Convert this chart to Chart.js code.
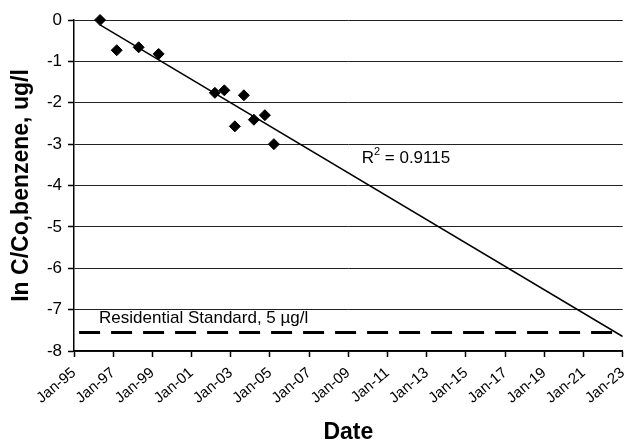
<!DOCTYPE html>
<html>
<head>
<meta charset="utf-8">
<script src="https://cdn.jsdelivr.net/npm/chart.js@4.4.1/dist/chart.umd.min.js"></script>
<style>
  html, body { margin: 0; padding: 0; background: #fff; }
  #wrap { width: 625px; height: 444px; position: relative; }
</style>
</head>
<body>
<div id="wrap"><canvas id="benzeneChart"></canvas></div>
<script>
// sample dates as decimal years, ln(C/Co) for benzene
const sampleDates = [1996.33, 1997.18, 1998.30, 1999.32, 2002.19, 2002.67, 2003.21, 2003.67, 2004.18, 2004.74, 2005.20];
const lnRatio = [0, -0.73, -0.66, -0.82, -1.76, -1.70, -2.57, -1.82, -2.41, -2.30, -3.00];

// linear trend line end points
const trendDates = [1996.33, 2023];
const trendValues = [-0.12, -7.65];

// residential standard, 5 ug/l
const standardDates = [1995.26, 2023];
const standardValues = [-7.55, -7.55];

const yTicks = [0, -1, -2, -3, -4, -5, -6, -7, -8];
const xTickYears = [1995, 1997, 1999, 2001, 2003, 2005, 2007, 2009, 2011, 2013, 2015, 2017, 2019, 2021, 2023];

function toPoints(xs, ys) {
    return xs.map((x, i) => ({ x: x, y: ys[i] }));
}

const FONT = '"Liberation Sans", Arial, Helvetica, sans-serif';

// text labels placed inside the plot
const notes = {
    id: 'notes',
    afterDatasetsDraw(chart) {
        const ctx = chart.ctx;
        const xs = chart.scales.x, ys = chart.scales.y;
        ctx.save();
        ctx.fillStyle = '#000';
        ctx.textBaseline = 'middle';
        ctx.textAlign = 'left';

        // R squared
        let px = xs.getPixelForValue(2009.68);
        let py = ys.getPixelForValue(-3.34);
        ctx.font = '17px ' + FONT;
        ctx.fillText('R', px, py);
        px += ctx.measureText('R').width;
        ctx.font = '11px ' + FONT;
        ctx.fillText('2', px, py - 6);
        px += ctx.measureText('2').width;
        ctx.font = '17px ' + FONT;
        ctx.fillText(' = 0.9115', px, py);

        // standard
        ctx.fillText('Residential Standard, 5 \u00b5g/l', xs.getPixelForValue(1996.28), ys.getPixelForValue(-7.21));
        ctx.restore();
    }
};

new Chart(document.getElementById('benzeneChart'), {
    type: 'scatter',
    data: {
        datasets: [
            {
                label: 'ln C/Co',
                data: toPoints(sampleDates, lnRatio),
                pointStyle: 'rectRot',
                pointRadius: 5.5,
                backgroundColor: '#000',
                borderColor: '#000',
                borderWidth: 1,
                showLine: false,
                clip: false,
                order: 0
            },
            {
                label: 'Trend',
                data: toPoints(trendDates, trendValues),
                showLine: true,
                borderColor: '#000',
                borderWidth: 1.5,
                pointRadius: 0,
                order: 1
            },
            {
                label: 'Residential Standard',
                data: toPoints(standardDates, standardValues),
                showLine: true,
                borderColor: '#000',
                borderWidth: 3,
                borderDash: [21, 11],
                pointRadius: 0,
                order: 2
            }
        ]
    },
    options: {
        responsive: true,
        maintainAspectRatio: false,
        animation: false,
        layout: {
            autoPadding: false,
            padding: { top: 20, right: 2.3, left: 0, bottom: 0 }
        },
        plugins: {
            legend: { display: false },
            tooltip: { enabled: false }
        },
        scales: {
            x: {
                type: 'linear',
                min: 1995,
                max: 2023,
                afterBuildTicks(scale) {
                    scale.ticks = xTickYears.map(v => ({ value: v }));
                },
                afterFit(scale) {
                    scale.height = 93;
                    scale.paddingRight = 0;
                },
                ticks: {
                    autoSkip: false,
                    minRotation: 40,
                    maxRotation: 40,
                    color: '#000',
                    padding: 7,
                    font: { family: FONT, size: 15 },
                    callback: v => 'Jan-' + String(Math.round(v) % 100).padStart(2, '0')
                },
                grid: {
                    drawOnChartArea: false,
                    tickLength: 6,
                    tickColor: '#000',
                    tickWidth: 1.5
                },
                border: { color: '#000', width: 1.5 },
                title: {
                    display: true,
                    text: 'Date',
                    color: '#000',
                    font: { family: FONT, size: 23, weight: 'bold', lineHeight: 1 },
                    padding: { top: 0, bottom: 0 }
                }
            },
            y: {
                min: -8,
                max: 0,
                afterBuildTicks(scale) {
                    scale.ticks = yTicks.map(v => ({ value: v }));
                },
                afterFit(scale) {
                    scale.width = 74;
                },
                ticks: {
                    color: '#000',
                    padding: 6,
                    font: { family: FONT, size: 17 }
                },
                grid: {
                    color: '#222',
                    lineWidth: 1,
                    tickLength: 6,
                    tickColor: '#000',
                    tickWidth: 1.5
                },
                border: { color: '#000', width: 1.5 },
                title: {
                    display: true,
                    text: 'In C/Co,benzene, ug/l',
                    color: '#000',
                    font: { family: FONT, size: 23, weight: 'bold', lineHeight: 1 },
                    padding: { top: 10, bottom: 0 }
                }
            }
        }
    },
    plugins: [notes]
});
</script>
</body>
</html>
